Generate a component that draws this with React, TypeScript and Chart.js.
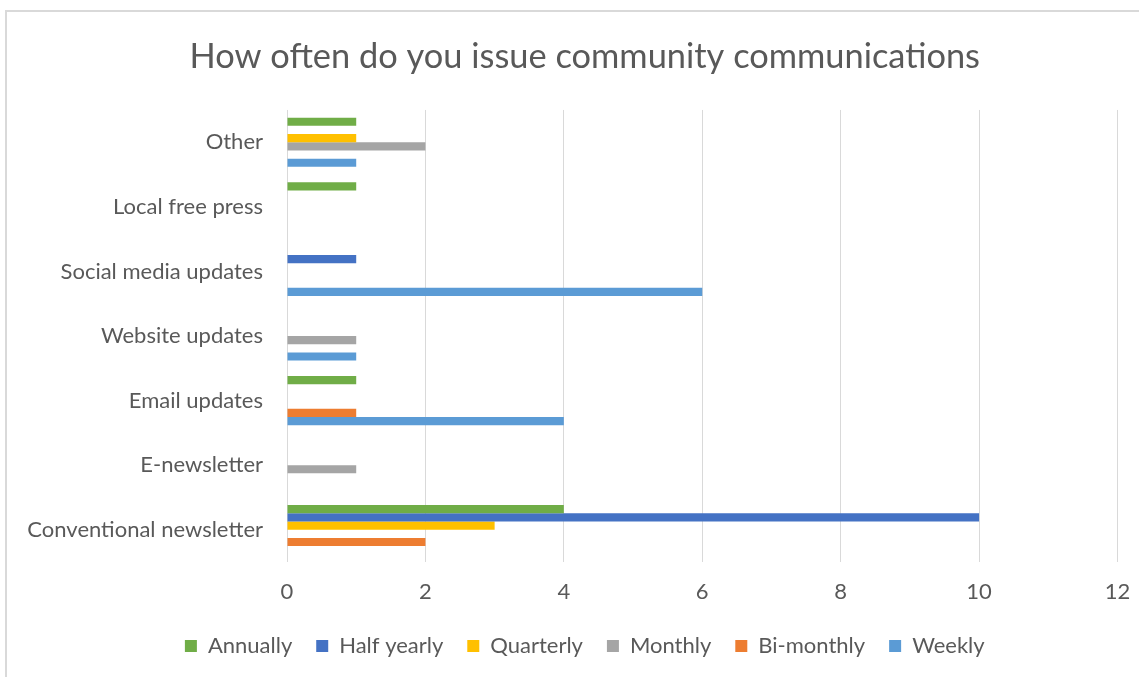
import React, { useEffect, useRef } from "react";
import { Chart, registerables } from "chart.js";

Chart.register(...registerables);

const categories = [
  "Other",
  "Local free press",
  "Social media updates",
  "Website updates",
  "Email updates",
  "E-newsletter",
  "Conventional newsletter",
];

const seriesNames = ["Annually", "Half yearly", "Quarterly", "Monthly", "Bi-monthly", "Weekly"];
const seriesColors = ["#70AD47", "#4472C4", "#FFC000", "#A5A5A5", "#ED7D31", "#5B9BD5"];

const annually = [1, 1, 0, 0, 1, 0, 4];
const halfYearly = [0, 0, 1, 0, 0, 0, 10];
const quarterly = [1, 0, 0, 0, 0, 0, 3];
const monthly = [2, 0, 0, 1, 0, 1, 0];
const biMonthly = [0, 0, 0, 0, 1, 0, 2];
const weekly = [1, 0, 6, 1, 4, 0, 0];

const seriesValues = [annually, halfYearly, quarterly, monthly, biMonthly, weekly];

const xTicks = [0, 2, 4, 6, 8, 10, 12];

const FONT = "Lato";
const TEXT = "#595959";

export default function App() {
  const ref = useRef<HTMLCanvasElement | null>(null);

  useEffect(() => {
    if (!ref.current) return;
    const chart = new Chart(ref.current, {
      type: "bar",
      data: {
        labels: categories,
        datasets: seriesNames.map((name, i) => ({
          label: name,
          data: seriesValues[i],
          backgroundColor: seriesColors[i],
          borderWidth: 0,
          categoryPercentage: 0.762,
          barPercentage: 1,
        })),
      },
      options: {
        indexAxis: "y",
        animation: false,
        responsive: false,
        maintainAspectRatio: false,
        layout: { padding: { left: 52, right: 21.5, top: 0, bottom: 0 } },
        plugins: {
          title: {
            display: true,
            text: "How often do you issue community communications",
            color: TEXT,
            font: { family: FONT, size: 34.4, weight: "normal" },
            padding: { top: 36.4, bottom: 32.3 },
          },
          legend: {
            display: true,
            position: "bottom",
            labels: {
              color: TEXT,
              font: { family: FONT, size: 22 },
              boxWidth: 12,
              boxHeight: 12,
              padding: 24,
            },
          },
          tooltip: { enabled: false },
        },
        scales: {
          x: {
            min: 0,
            max: 12,
            afterBuildTicks: (scale: any) => {
              scale.ticks = xTicks.map((v) => ({ value: v }));
            },
            afterFit: (scale: any) => {
              scale.height = 49;
              scale.paddingLeft = 0;
              scale.paddingRight = 0;
            },
            grid: { color: "#D9D9D9", lineWidth: 1, drawTicks: false },
            border: { display: false },
            ticks: {
              color: TEXT,
              font: { family: FONT, size: 22 },
              padding: 17,
            },
          },
          y: {
            afterFit: (scale: any) => {
              scale.width = 235;
              scale._computeLabelArea = () => undefined;
            },
            grid: { display: false, drawTicks: false },
            border: { display: false },
            ticks: {
              color: TEXT,
              font: { family: FONT, size: 22 },
              padding: 24,
              autoSkip: false,
            },
          },
        },
      },
    });
    return () => chart.destroy();
  }, []);

  return (
    <div
      style={{
        position: "absolute",
        left: 0,
        top: 0,
        width: 1139,
        height: 677,
        overflow: "hidden",
        background: "#fff",
      }}
    >
      <div
        style={{
          position: "absolute",
          left: 5,
          top: 10,
          width: 1200,
          height: 700,
          borderLeft: "2px solid #D9D9D9",
          borderTop: "2px solid #D9D9D9",
        }}
      />
      <canvas
        ref={ref}
        width={1139}
        height={667}
        style={{ position: "absolute", left: 0, top: 0, width: 1139, height: 667 }}
      />
    </div>
  );
}
